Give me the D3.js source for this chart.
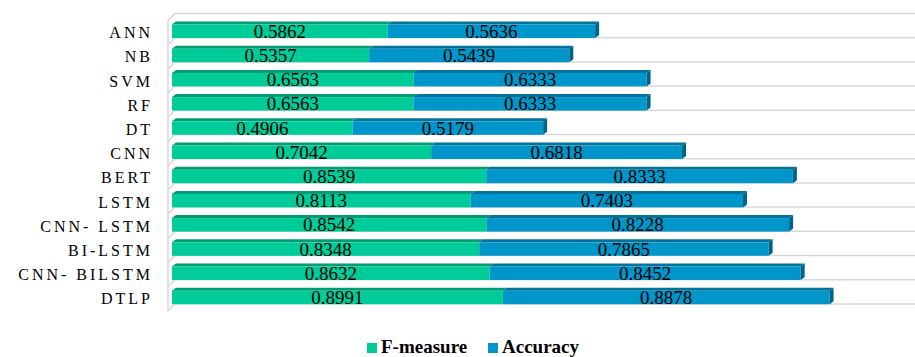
<!DOCTYPE html>
<html>
<head>
<meta charset="utf-8">
<script src="https://cdn.jsdelivr.net/npm/d3@7"></script>
<style>
  body { margin: 0; background: #fff; }
  svg { display: block; }
</style>
</head>
<body>
<div id="chart"></div>
<script>
const categories = ["ANN", "NB", "SVM", "RF", "DT", "CNN", "BERT", "LSTM", "CNN- LSTM", "BI-LSTM", "CNN- BILSTM", "DTLP"];
const fMeasure = [0.5862, 0.5357, 0.6563, 0.6563, 0.4906, 0.7042, 0.8539, 0.8113, 0.8542, 0.8348, 0.8632, 0.8991];
const accuracy = [0.5636, 0.5439, 0.6333, 0.6333, 0.5179, 0.6818, 0.8333, 0.7403, 0.8228, 0.7865, 0.8452, 0.8878];
const seriesNames = ["F-measure", "Accuracy"];

const width = 915, height = 357;
const serif = "Liberation Serif, Times New Roman, serif";

// front, top and side colours of each series
const colors = [
    { front: "#00cc99", top: "#009c74", side: "#008a66" },
    { front: "#0096c9", top: "#00739b", side: "#006488" }
];

const svg = d3.select("#chart").append("svg")
    .attr("width", width)
    .attr("height", height);

const x = d3.scaleLinear().domain([0, 2]).range([172, 908]);
const y = d3.scaleBand().domain(categories).range([13.5, 13.5 + 12 * 24.2]).padding(0);

const wallDx = 7, wallDy = 7;   // depth of the walls
const barDx = 4, barDy = 3;     // depth of the bars
const wallLeft = 168;

// grid / floor lines
const gridYs = categories.map((c) => y(c)).concat([y.range()[1]]);
const grid = svg.append("g")
    .attr("stroke", "#d9d9d9")
    .attr("stroke-width", 1.5)
    .attr("fill", "none");

grid.selectAll("path.grid")
    .data(gridYs)
    .enter()
    .append("path")
    .attr("class", "grid")
    .attr("d", (gy) => `M${wallLeft},${gy + wallDy}L${wallLeft + wallDx},${gy}L${width},${gy}`);

grid.append("line")
    .attr("x1", wallLeft).attr("x2", wallLeft)
    .attr("y1", gridYs[0] + wallDy).attr("y2", gridYs[gridYs.length - 1] + wallDy);

// stacked data
const rows = categories.map((c, i) => {
    const vals = [fMeasure[i], accuracy[i]];
    let acc = 0;
    return vals.map((v, s) => {
        const seg = { cat: c, s: s, v: v, x0: acc, x1: acc + v, last: s === vals.length - 1 };
        acc += v;
        return seg;
    });
});
const segs = rows.flat();

const frontTop = (c) => y(c) + 11;
const frontH = 13.5;

const bars = svg.append("g");

// top faces
bars.selectAll("path.top")
    .data(segs)
    .enter()
    .append("path")
    .attr("class", "top")
    .attr("fill", (d) => colors[d.s].top)
    .attr("d", (d) => {
        const y0 = frontTop(d.cat);
        return `M${x(d.x0)},${y0}L${x(d.x0) + barDx},${y0 - barDy}L${x(d.x1) + barDx},${y0 - barDy}L${x(d.x1)},${y0}Z`;
    });

// front faces
bars.selectAll("rect.front")
    .data(segs)
    .enter()
    .append("rect")
    .attr("class", "front")
    .attr("x", (d) => x(d.x0))
    .attr("y", (d) => frontTop(d.cat))
    .attr("width", (d) => x(d.x1) - x(d.x0))
    .attr("height", frontH)
    .attr("fill", (d) => colors[d.s].front);

// side face at the end of each bar
bars.selectAll("path.side")
    .data(segs.filter((d) => d.last))
    .enter()
    .append("path")
    .attr("class", "side")
    .attr("fill", (d) => colors[d.s].side)
    .attr("d", (d) => {
        const y0 = frontTop(d.cat), xe = x(d.x1);
        return `M${xe},${y0}L${xe + barDx},${y0 - barDy}L${xe + barDx},${y0 + frontH - barDy}L${xe},${y0 + frontH}Z`;
    });

// value labels
svg.append("g")
    .selectAll("text")
    .data(segs)
    .enter()
    .append("text")
    .attr("x", (d) => (x(d.x0) + x(d.x1)) / 2)
    .attr("y", (d) => frontTop(d.cat) + frontH / 2 + 6.5)
    .attr("text-anchor", "middle")
    .attr("font-family", serif)
    .attr("font-size", 19)
    .attr("fill", "#000")
    .text((d) => d.v.toFixed(4));

// category labels
svg.append("g")
    .selectAll("text")
    .data(categories)
    .enter()
    .append("text")
    .attr("x", 153)
    .attr("y", (c) => frontTop(c) + frontH / 2 + 7)
    .attr("text-anchor", "end")
    .attr("font-family", serif)
    .attr("font-size", 16)
    .attr("letter-spacing", 3)
    .attr("fill", "#000")
    .text((c) => c);

// legend
const legendItems = [
    { name: seriesNames[0], color: colors[0].front, x: 367 },
    { name: seriesNames[1], color: colors[1].front, x: 488 }
];
const legend = svg.append("g");
const li = legend.selectAll("g")
    .data(legendItems)
    .enter()
    .append("g")
    .attr("transform", (d) => `translate(${d.x},343)`);
li.append("rect")
    .attr("width", 10)
    .attr("height", 10)
    .attr("fill", (d) => d.color);
li.append("text")
    .attr("x", 14)
    .attr("y", 10)
    .attr("font-family", serif)
    .attr("font-size", 19)
    .attr("font-weight", "bold")
    .attr("fill", "#000")
    .text((d) => d.name);
</script>
</body>
</html>
